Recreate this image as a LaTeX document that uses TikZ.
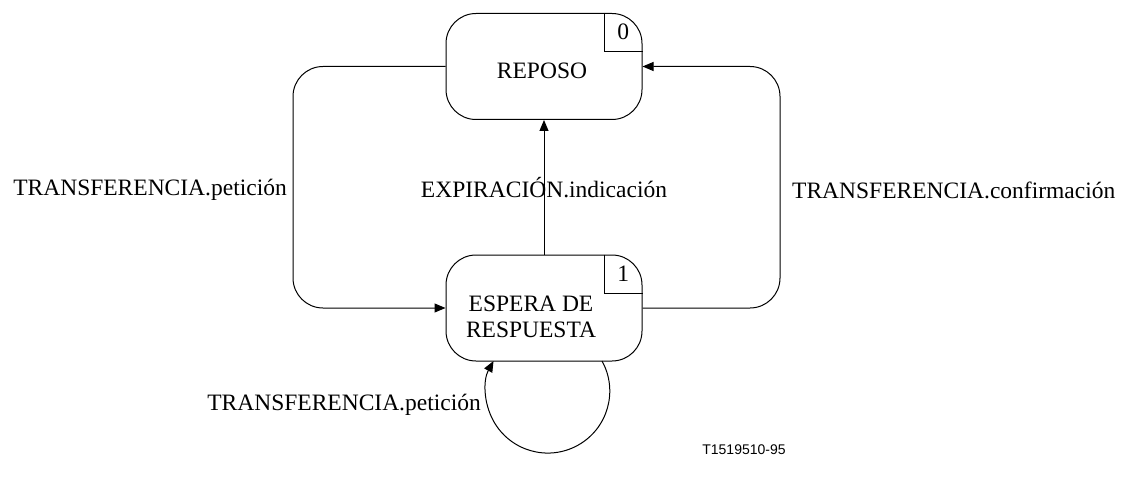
\documentclass[tikz,border=0pt]{standalone}
\usepackage{fontspec}
\setmainfont{Liberation Serif}
\newfontfamily\labelsans{Liberation Sans}
\usetikzlibrary{arrows.meta}
\begin{document}
\begin{tikzpicture}[x=1pt,y=-1pt,
  statebox/.style={draw,line width=1pt,rounded corners=30pt,minimum width=196pt,minimum height=106pt,inner sep=0pt},
  numbox/.style={minimum width=38pt,minimum height=38pt,inner sep=0pt,font=\fontsize{23.5}{26}\selectfont},
  conn/.style={line width=1pt,rounded corners=30pt,-{Triangle[length=11pt,width=9pt]}},
  lbl/.style={font=\fontsize{23.5}{26}\selectfont,inner sep=0pt,align=center}]
\useasboundingbox (0,0) rectangle (1123,486);
\node[statebox] (rep) at (544,66.5) {};
\node[statebox] (esp) at (544,308) {};
\node[lbl] (rept) at (542,71) {REPOSO};
\node[lbl] (espt) at (531,317) {ESPERA DE\\RESPUESTA};
\node[numbox,anchor=north east] (n0) at (rep.north east) {0};
\node[numbox,anchor=north east] (n1) at (esp.north east) {1};
\draw[line width=0.8pt] (n0.north west) -- (n0.south west) -- (n0.south east);
\draw[line width=0.8pt] (n1.north west) -- (n1.south west) -- (n1.south east);
\coordinate (lt) at (293,66.5);
\coordinate (lb) at (293,308);
\coordinate (rt) at (780,66.5);
\coordinate (rb) at (780,308);
\draw[conn] (rep.west) -- (lt) -- (lb) -- (esp.west);
\draw[conn] (esp.east) -- (rb) -- (rt) -- (rep.east);
\draw[conn,rounded corners=0pt] (esp.north) -- (rep.south);
\coordinate (ls) at (602,361);
\draw[line width=1pt,-{Triangle[length=11pt,width=9pt]}] (ls) arc[start angle=-29,end angle=209,radius=62];
\node[lbl,anchor=east] (l1) at (287,190) {TRANSFERENCIA.petición};
\node[lbl] (l2) at (544,188) {EXPIRACIÓN.indicación};
\node[lbl,anchor=west] (l3) at (792,190) {TRANSFERENCIA.confirmación};
\node[lbl,anchor=east] (l4) at (481,405) {TRANSFERENCIA.petición};
\node[font=\labelsans\fontsize{14}{16}\selectfont,inner sep=0pt] (tag) at (744,450) {T1519510-95};
\end{tikzpicture}
\end{document}
